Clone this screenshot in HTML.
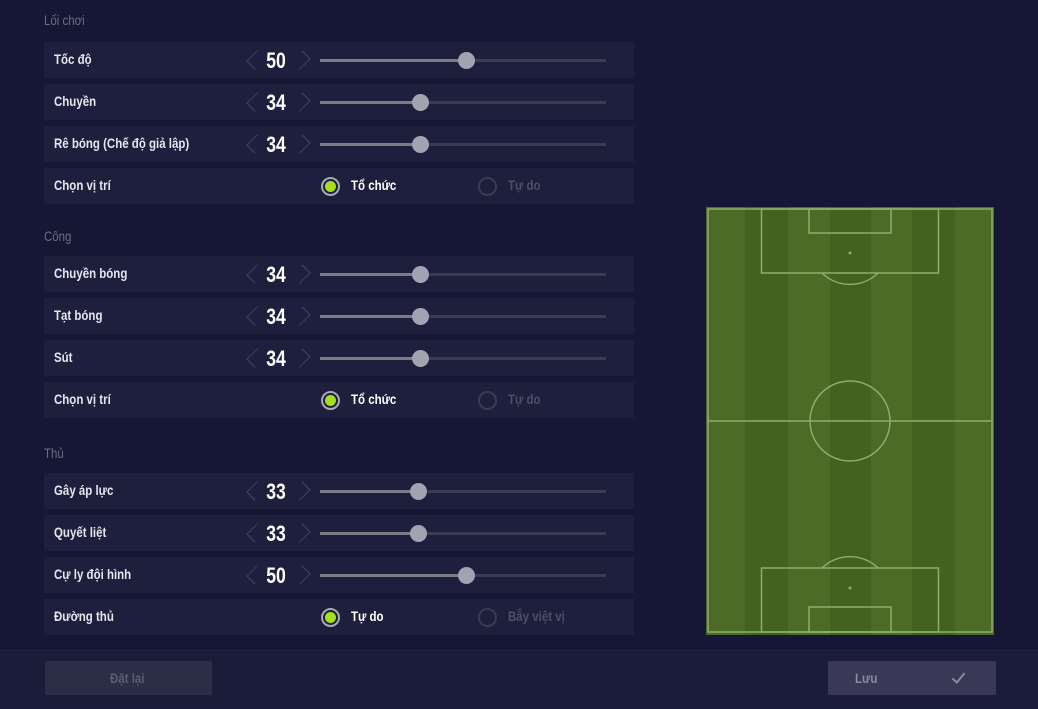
<!DOCTYPE html>
<html><head><meta charset="utf-8"><style>
*{margin:0;padding:0;box-sizing:border-box}
body{width:1038px;height:709px;background:#161734;position:relative;overflow:hidden;font-family:"Liberation Sans","DejaVu Sans",sans-serif;}
.t{position:absolute;white-space:nowrap;transform-origin:left center;transform:scaleX(0.82);}
.sec{color:#6b6c84;font-size:14px;left:44px}
.row{position:absolute;left:44px;width:590px;height:36px;background:#1e1f3d}
.lab{color:#e6e6ee;font-size:14px;font-weight:bold;left:10px;top:9px}
.num{position:absolute;left:212px;width:40px;text-align:center;top:6px;color:#fff;font-size:22px;font-weight:bold;transform:scaleX(0.8)}
.chev{position:absolute;top:12px;width:12px;height:12px;border-left:1.5px solid #3f405c;border-bottom:1.5px solid #3f405c}
.track{position:absolute;left:276px;top:17px;width:286px;height:3px;background:#3a3b55}
.fill{position:absolute;left:0;top:0;height:3px;background:#7b7b88}
.knob{position:absolute;top:-7px;width:17px;height:17px;border-radius:50%;background:#a3a2b0;margin-left:-8px}
.rad{position:absolute;top:9px;width:19px;height:19px;border-radius:50%}
.on{border:2px solid #a9a9b6;background:#1e1f3d}
.on::after{content:"";position:absolute;left:2px;top:2px;width:11px;height:11px;border-radius:50%;background:#a3e01a}
.off{border:2px solid #3a3b55}
.rl{top:9px;font-size:14px;font-weight:bold}
.cl{left:206px;transform:rotate(45deg) scaleY(1.3)}
.cr{left:251px;transform:rotate(-135deg) scaleY(1.3)}
</style></head><body>
<div class="t sec" style="top:12px">Lối chơi</div>
<div class="t sec" style="top:228px">Công</div>
<div class="t sec" style="top:445px">Thủ</div>

<div class="row" style="top:42px"><div class="t lab">Tốc độ</div><div class="chev cl"></div><div class="num">50</div><div class="chev cr"></div><div class="track"><div class="fill" style="width:146px"></div><div class="knob" style="left:146px"></div></div></div>
<div class="row" style="top:84px"><div class="t lab">Chuyền</div><div class="chev cl"></div><div class="num">34</div><div class="chev cr"></div><div class="track"><div class="fill" style="width:100px"></div><div class="knob" style="left:100px"></div></div></div>
<div class="row" style="top:126px"><div class="t lab">Rê bóng (Chế độ giả lập)</div><div class="chev cl"></div><div class="num">34</div><div class="chev cr"></div><div class="track"><div class="fill" style="width:100px"></div><div class="knob" style="left:100px"></div></div></div>
<div class="row" style="top:168px"><div class="t lab">Chọn vị trí</div><div class="rad on" style="left:277px"></div><div class="t rl" style="left:307px;color:#fff">Tổ chức</div><div class="rad off" style="left:434px"></div><div class="t rl" style="left:464px;color:#4d4e68">Tự do</div></div>

<div class="row" style="top:256px"><div class="t lab">Chuyền bóng</div><div class="chev cl"></div><div class="num">34</div><div class="chev cr"></div><div class="track"><div class="fill" style="width:100px"></div><div class="knob" style="left:100px"></div></div></div>
<div class="row" style="top:298px"><div class="t lab">Tạt bóng</div><div class="chev cl"></div><div class="num">34</div><div class="chev cr"></div><div class="track"><div class="fill" style="width:100px"></div><div class="knob" style="left:100px"></div></div></div>
<div class="row" style="top:340px"><div class="t lab">Sút</div><div class="chev cl"></div><div class="num">34</div><div class="chev cr"></div><div class="track"><div class="fill" style="width:100px"></div><div class="knob" style="left:100px"></div></div></div>
<div class="row" style="top:382px"><div class="t lab">Chọn vị trí</div><div class="rad on" style="left:277px"></div><div class="t rl" style="left:307px;color:#fff">Tổ chức</div><div class="rad off" style="left:434px"></div><div class="t rl" style="left:464px;color:#4d4e68">Tự do</div></div>

<div class="row" style="top:473px"><div class="t lab">Gây áp lực</div><div class="chev cl"></div><div class="num">33</div><div class="chev cr"></div><div class="track"><div class="fill" style="width:98px"></div><div class="knob" style="left:98px"></div></div></div>
<div class="row" style="top:515px"><div class="t lab">Quyết liệt</div><div class="chev cl"></div><div class="num">33</div><div class="chev cr"></div><div class="track"><div class="fill" style="width:98px"></div><div class="knob" style="left:98px"></div></div></div>
<div class="row" style="top:557px"><div class="t lab">Cự ly đội hình</div><div class="chev cl"></div><div class="num">50</div><div class="chev cr"></div><div class="track"><div class="fill" style="width:146px"></div><div class="knob" style="left:146px"></div></div></div>
<div class="row" style="top:599px"><div class="t lab">Đường thủ</div><div class="rad on" style="left:277px"></div><div class="t rl" style="left:307px;color:#fff">Tự do</div><div class="rad off" style="left:434px"></div><div class="t rl" style="left:464px;color:#4d4e68">Bẫy việt vị</div></div>

<svg style="position:absolute;left:0;top:0" width="1038" height="709">
<g>
<rect x="706" y="207" width="288" height="428" fill="#4c6b26"/>
<rect x="745" y="207" width="43" height="428" fill="#43621f"/>
<rect x="830" y="207" width="41" height="428" fill="#43621f"/>
<rect x="912" y="207" width="43" height="428" fill="#43621f"/>
<g fill="none" stroke="#8fac6c" stroke-width="1.5">
<rect x="708" y="209" width="284" height="423"/>
<line x1="708" y1="421" x2="992" y2="421"/>
<circle cx="850" cy="421" r="40"/>
<rect x="761.5" y="209" width="177" height="64"/>
<rect x="809" y="209" width="82" height="24"/>
<path d="M822 273 A40 40 0 0 0 878 273"/>
<rect x="761.5" y="568" width="177" height="64"/>
<rect x="809" y="607" width="82" height="25"/>
<path d="M822 568 A40 40 0 0 1 878 568"/>
</g>
<circle cx="850" cy="253" r="1.5" fill="#8fac6c"/>
<circle cx="850" cy="588" r="1.5" fill="#8fac6c"/>
</g>
</svg>

<div style="position:absolute;left:0;top:650px;width:1038px;height:59px;background:#1b1c3a;border-top:1px solid #242544"></div>
<div style="position:absolute;left:45px;top:661px;width:167px;height:34px;background:#2c2d47;border-radius:2px"></div>
<div class="t" style="left:110px;top:670px;color:#5c5d76;font-size:14px;font-weight:bold">Đặt lại</div>
<div style="position:absolute;left:828px;top:661px;width:168px;height:34px;background:#393957;border-radius:2px"></div>
<div class="t" style="left:855px;top:670px;color:#8a8aa2;font-size:14px;font-weight:bold">Lưu</div>
<div style="position:absolute;left:955px;top:670px;width:7px;height:13px;border-right:2px solid #8a8aa2;border-bottom:2px solid #8a8aa2;transform:rotate(40deg)"></div>
</body></html>
